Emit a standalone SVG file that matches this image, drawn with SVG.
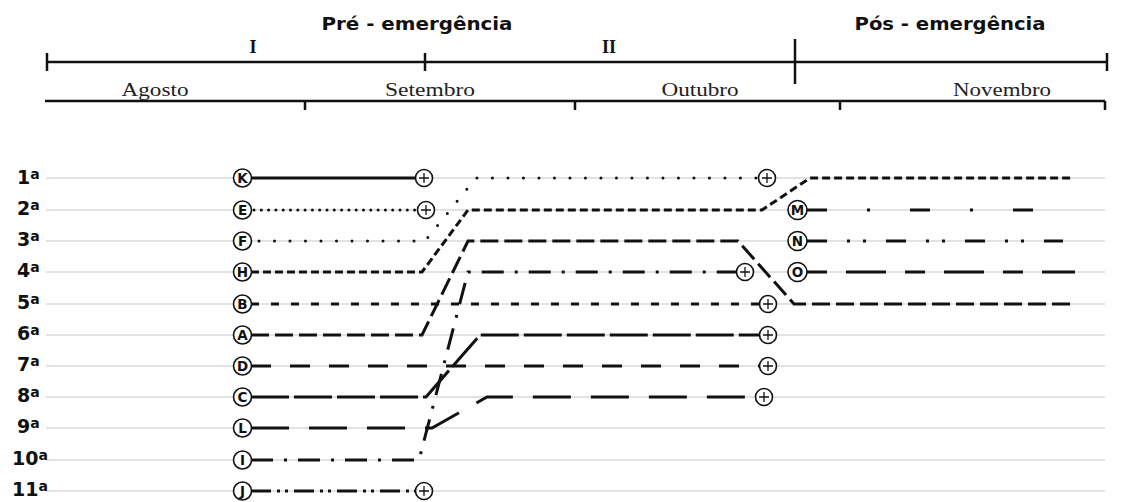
<svg xmlns="http://www.w3.org/2000/svg" width="1123" height="502" viewBox="0 0 1123 502">
<style>
.hdr{font-family:"DejaVu Sans","Liberation Sans",sans-serif;font-weight:bold;font-size:18px;fill:#111}
.rom{font-family:"Liberation Serif",serif;font-weight:bold;font-size:18px;fill:#111;text-anchor:middle}
.mon{font-family:"Liberation Serif",serif;font-size:19px;fill:#222;text-anchor:middle}
.row{font-family:"DejaVu Sans","Liberation Sans",sans-serif;font-weight:bold;font-size:19px;fill:#111}
.sup{font-size:14px}
.grid{stroke:#d9d9d9;stroke-width:1.5}
.axis{stroke:#111;stroke-width:2.5;fill:none}
.c{fill:#fff;stroke:#111;stroke-width:1.6}
.lt{font-family:"DejaVu Sans","Liberation Sans",sans-serif;font-weight:bold;font-size:13.5px;fill:#111;text-anchor:middle}
.pl{stroke:#111;stroke-width:1.3}
.ln{fill:none;stroke:#111;stroke-width:3}
</style>
<rect width="1123" height="502" fill="#fff"/>
<g id="header">
<text class="hdr" x="417" y="30" text-anchor="middle" textLength="191" lengthAdjust="spacingAndGlyphs">Pré - emergência</text>
<text class="hdr" x="950" y="30" text-anchor="middle" textLength="191" lengthAdjust="spacingAndGlyphs">Pós - emergência</text>
<text class="rom" x="253" y="53">I</text>
<text class="rom" x="609" y="53">II</text>
<path class="axis" d="M47,62 H1107 M47,53 V71 M425,53 V71 M795,39 V84 M1107,53 V71"/>
<text class="mon" x="155" y="96" textLength="67" lengthAdjust="spacingAndGlyphs">Agosto</text>
<text class="mon" x="430" y="96" textLength="90" lengthAdjust="spacingAndGlyphs">Setembro</text>
<text class="mon" x="700" y="96" textLength="77" lengthAdjust="spacingAndGlyphs">Outubro</text>
<text class="mon" x="1002" y="96" textLength="98" lengthAdjust="spacingAndGlyphs">Novembro</text>
<path class="axis" d="M45,101 H1105 M305,101 V110 M575,101 V110 M840,101 V110 M1105,101 V110"/>
</g>
<g id="rows">
<path class="grid" d="M46,178 H1105 M46,210 H1105 M46,241 H1105 M46,272 H1105 M46,304 H1105 M46,335 H1105 M46,366 H1105 M46,397 H1105 M46,428 H1105 M46,460 H1105 M46,491 H1105"/>
<text class="row" x="17" y="184">1<tspan class="sup" dy="-5">a</tspan></text>
<text class="row" x="17" y="215">2<tspan class="sup" dy="-5">a</tspan></text>
<text class="row" x="17" y="246">3<tspan class="sup" dy="-5">a</tspan></text>
<text class="row" x="17" y="277">4<tspan class="sup" dy="-5">a</tspan></text>
<text class="row" x="17" y="309">5<tspan class="sup" dy="-5">a</tspan></text>
<text class="row" x="17" y="340">6<tspan class="sup" dy="-5">a</tspan></text>
<text class="row" x="17" y="371">7<tspan class="sup" dy="-5">a</tspan></text>
<text class="row" x="17" y="402">8<tspan class="sup" dy="-5">a</tspan></text>
<text class="row" x="17" y="433">9<tspan class="sup" dy="-5">a</tspan></text>
<text class="row" x="12" y="465">10<tspan class="sup" dy="-5">a</tspan></text>
<text class="row" x="12" y="496">11<tspan class="sup" dy="-5">a</tspan></text>
</g>
<g id="connectors">
<path id="line-K" class="ln" stroke-width="2.6" d="M251,178 H416"/>
<path id="line-E" class="ln" stroke-linecap="round" stroke-width="3.2" stroke-dasharray="0 7.3" d="M254,210 H417"/>
<path id="line-F" class="ln" stroke-linecap="round" stroke-width="3.4" stroke-dasharray="0 15.5" d="M259,241 H425 L476,178 H757"/>
<path id="line-H" class="ln" stroke-dasharray="8 4" d="M251,272 H422 L468,210 H762 L810,178 H1072"/>
<path id="line-B" class="ln" stroke-dasharray="8 12" d="M251,304 H759"/>
<path id="line-A" class="ln" stroke-dasharray="18 6" d="M251,335 H422 L468,241 H738 L794,304 H1073"/>
<path id="line-D" class="ln" stroke-dasharray="20 19" d="M251,366 H759"/>
<path id="line-C" class="ln" stroke-dasharray="38 5" d="M251,397 H426 L480,335 H759"/>
<path id="line-L" class="ln" stroke-dasharray="38 20" d="M251,428 H432 L487,397 H756"/>
<path id="line-I" class="ln" stroke-dasharray="22 11 3 11" d="M251,460 H419 L468,272 H737"/>
<path id="line-J" class="ln" stroke-dasharray="20 6 3 5 3 6" d="M251,491 H416"/>
<path id="line-M" class="ln" stroke-dasharray="20 40 3 40" d="M807,210 H1072"/>
<path id="line-N" class="ln" stroke-dasharray="20 20 3 13 3 20" d="M807,241 H1063"/>
<path id="line-O" class="ln" stroke-dasharray="20 19 40 19" d="M807,272 H1075"/>
</g>
<defs>
<g id="plus"><circle class="c" r="8.5"/><path class="pl" d="M-5,0 H5 M0,-5 V5"/></g>
</defs>
<g id="node-K"><circle class="c" cx="242.5" cy="178" r="9"/><text class="lt" x="242.5" y="182.9">K</text></g>
<g id="node-E"><circle class="c" cx="242.5" cy="210" r="9"/><text class="lt" x="242.5" y="214.9">E</text></g>
<g id="node-F"><circle class="c" cx="242.5" cy="241" r="9"/><text class="lt" x="242.5" y="245.9">F</text></g>
<g id="node-H"><circle class="c" cx="242.5" cy="272" r="9"/><text class="lt" x="242.5" y="276.9">H</text></g>
<g id="node-B"><circle class="c" cx="242.5" cy="304" r="9"/><text class="lt" x="242.5" y="308.9">B</text></g>
<g id="node-A"><circle class="c" cx="242.5" cy="335" r="9"/><text class="lt" x="242.5" y="339.9">A</text></g>
<g id="node-D"><circle class="c" cx="242.5" cy="366" r="9"/><text class="lt" x="242.5" y="370.9">D</text></g>
<g id="node-C"><circle class="c" cx="242.5" cy="397" r="9"/><text class="lt" x="242.5" y="401.9">C</text></g>
<g id="node-L"><circle class="c" cx="242.5" cy="428" r="9"/><text class="lt" x="242.5" y="432.9">L</text></g>
<g id="node-I"><circle class="c" cx="242.5" cy="460" r="9"/><text class="lt" x="242.5" y="464.9">I</text></g>
<g id="node-J"><circle class="c" cx="242.5" cy="491" r="9"/><text class="lt" x="242.5" y="495.9">J</text></g>
<g id="node-M"><circle class="c" cx="797.5" cy="210" r="9.5"/><text class="lt" x="797.5" y="214.9" font-size="14">M</text></g>
<g id="node-N"><circle class="c" cx="797.5" cy="241" r="9.5"/><text class="lt" x="797.5" y="245.9" font-size="14">N</text></g>
<g id="node-O"><circle class="c" cx="797.5" cy="272" r="9.5"/><text class="lt" x="797.5" y="276.9" font-size="14">O</text></g>
<g id="end-K"><use href="#plus" x="424" y="178"/></g>
<g id="end-E"><use href="#plus" x="426" y="210"/></g>
<g id="end-J"><use href="#plus" x="424" y="491"/></g>
<g id="end-F"><use href="#plus" x="767" y="178"/></g>
<g id="end-I"><use href="#plus" x="745" y="272"/></g>
<g id="end-B"><use href="#plus" x="768" y="304"/></g>
<g id="end-C"><use href="#plus" x="768" y="335"/></g>
<g id="end-D"><use href="#plus" x="768" y="366"/></g>
<g id="end-L"><use href="#plus" x="764" y="397"/></g>
</svg>
